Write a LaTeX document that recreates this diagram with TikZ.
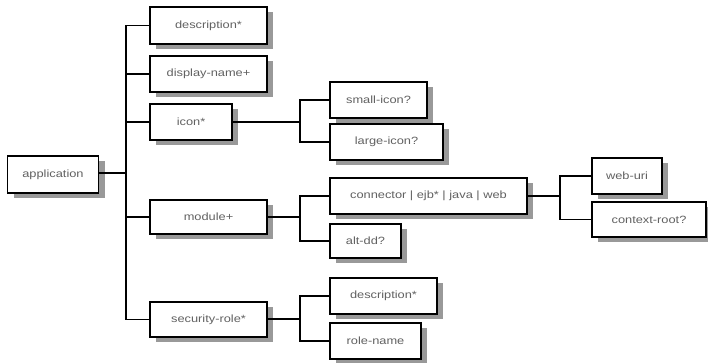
\documentclass[tikz,border=0pt]{standalone}
\usepackage{fontspec}
\setmainfont{Liberation Sans}[FakeStretch=1.22]
\usetikzlibrary{shadows}
\begin{document}
\begin{tikzpicture}[x=1pt,y=-1pt,
  box/.style={draw=black, line width=1.3pt, fill=white, inner sep=0pt,
    font=\fontsize{10.5}{12}\selectfont, text=black!62,
    drop shadow={shadow xshift=6pt, shadow yshift=-4.5pt, fill=black!40, opacity=1}},
  link/.style={line width=1.3pt, black}]
\useasboundingbox (0,0) rectangle (708,362);
% boxes: center, width, height
\node[box, minimum width=91pt, minimum height=37pt] (app) at (53,174.5) {application};
\node[box, minimum width=117pt, minimum height=37pt] (desc) at (208.5,25.5) {description*};
\node[box, minimum width=117pt, minimum height=36pt] (disp) at (208.5,74) {display-name+};
\node[box, minimum width=82pt, minimum height=36pt] (icon) at (191,122) {icon*};
\node[box, minimum width=117pt, minimum height=34pt] (mod) at (208.5,217) {module+};
\node[box, minimum width=117pt, minimum height=35pt] (sec) at (208.5,319.5) {security-role*};
\node[box, minimum width=97pt, minimum height=36pt] (small) at (378.5,100) {small-icon?};
\node[box, minimum width=113pt, minimum height=36pt] (large) at (386.5,142) {large-icon?};
\node[box, minimum width=197pt, minimum height=36pt] (conn) at (428.5,196) {connector | ejb* | java | web};
\node[box, minimum width=71pt, minimum height=34pt] (alt) at (365.5,241) {alt-dd?};
\node[box, minimum width=70pt, minimum height=36pt] (web) at (627,176) {web-uri};
\node[box, minimum width=114pt, minimum height=35pt] (ctx) at (649,219.5) {context-root?};
\node[box, minimum width=107pt, minimum height=36pt] (desc2) at (383.5,296) {description*};
\node[box, minimum width=91pt, minimum height=36pt] (role) at (375.5,341) {role-name};
% junctions
\coordinate (j1) at (126,173);
\coordinate (j2) at (300,122);
\coordinate (j3) at (300,217);
\coordinate (j4) at (560,196);
\coordinate (j5) at (300,319);
% connectors
\draw[link] (app.east |- j1) -- (j1);
\foreach \n in {desc,disp,icon,mod,sec} \draw[link] (\n.west) -| (j1);
\draw[link] (icon.east) -- (j2);
\foreach \n in {small,large} \draw[link] (\n.west) -| (j2);
\draw[link] (mod.east) -- (j3);
\foreach \n in {conn,alt} \draw[link] (\n.west) -| (j3);
\draw[link] (conn.east) -- (j4);
\foreach \n in {web,ctx} \draw[link] (\n.west) -| (j4);
\draw[link] (sec.east |- j5) -- (j5);
\foreach \n in {desc2,role} \draw[link] (\n.west) -| (j5);
\end{tikzpicture}
\end{document}
